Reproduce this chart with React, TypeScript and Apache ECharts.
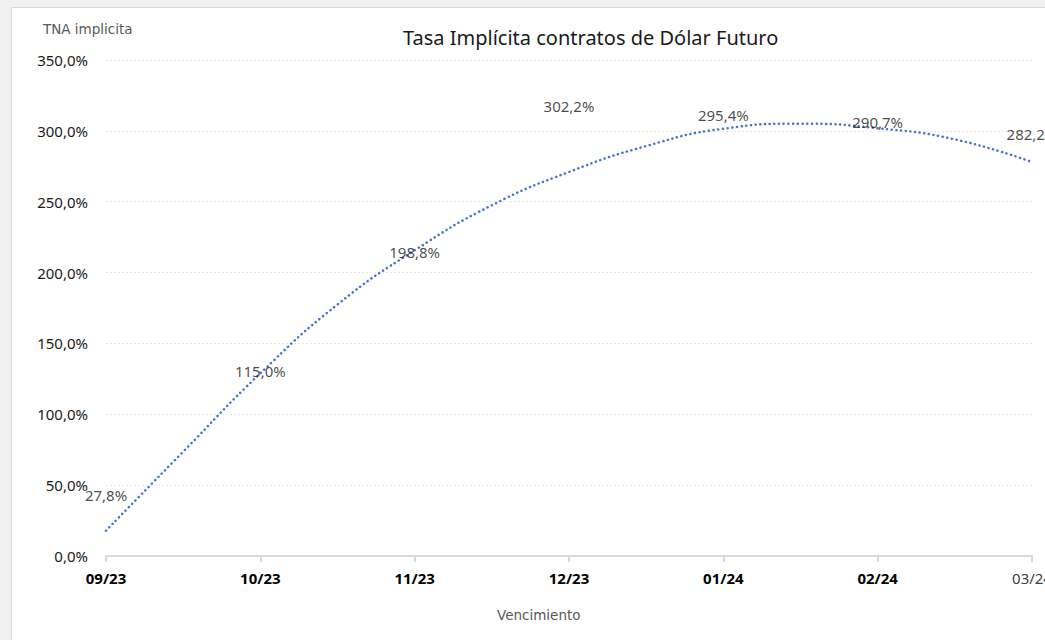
import React, { useEffect, useRef } from "react";
import * as echarts from "echarts";

const categories = ["09/23", "10/23", "11/23", "12/23", "01/24", "02/24", "03/24"];
const tnaValues = [27.8, 115.0, 198.8, 302.2, 295.4, 290.7, 282.2];
// dotted trend line at half-category steps
const trendX = [0, 0.5, 1, 1.5, 2, 2.5, 3, 3.5, 4, 4.5, 5, 5.5, 6];
const trendY = [17.9, 73.6, 128.9, 177.5, 215.7, 247.5, 271, 289.3, 301.5, 305.1, 301.8, 294, 278];

const FONT = "'Noto Sans', sans-serif";
const FONT2 = "'DejaVu Sans', sans-serif";
const fmt = (v: number) => v.toFixed(1).replace(".", ",") + "%";

export default function App() {
  const ref = useRef<HTMLDivElement>(null);
  useEffect(() => {
    document.documentElement.style.overflow = "hidden";
    document.body.style.margin = "0";
    document.body.style.overflow = "hidden";
    if (!ref.current) return;
    const chart = echarts.init(ref.current, null, { renderer: "svg", width: 1045, height: 640 });
    chart.setOption({
      animation: false,
      backgroundColor: "#ffffff",
      graphic: [
        { type: "rect", z: -10, silent: true, shape: { x: 0, y: 0, width: 1045, height: 7 }, style: { fill: "#f0f0f0" } },
        { type: "rect", z: -10, silent: true, shape: { x: 0, y: 0, width: 11, height: 640 }, style: { fill: "#f0f0f0" } },
        { type: "line", z: -9, silent: true, shape: { x1: 11.5, y1: 7.5, x2: 1045, y2: 7.5 }, style: { stroke: "#d9d9d9", lineWidth: 1 } },
        { type: "line", z: -9, silent: true, shape: { x1: 11.5, y1: 7.5, x2: 11.5, y2: 640 }, style: { stroke: "#d9d9d9", lineWidth: 1 } },
        {
          type: "text",
          left: 403,
          top: 27,
          style: { text: "Tasa Implícita contratos de Dólar Futuro", font: `20px ${FONT}`, fill: "#1a1a1a" },
        },
        {
          type: "text",
          left: 43,
          top: 22,
          style: { text: "TNA implicita", font: `13.5px ${FONT2}`, fill: "#595959" },
        },
        {
          type: "text",
          left: 497,
          top: 608,
          style: { text: "Vencimiento", font: `13.5px ${FONT2}`, fill: "#595959" },
        },
      ],
      grid: { left: 106, right: 13, top: 60, bottom: 84, containLabel: false, outerBoundsMode: "none" },
      xAxis: {
        type: "value",
        min: 0,
        max: 6,
        interval: 1,
        axisLine: { show: true, lineStyle: { color: "#d9d9d9", width: 2 } },
        axisTick: { show: true, length: 6, lineStyle: { color: "#d9d9d9", width: 2 } },
        splitLine: { show: false },
        axisLabel: {
          margin: 14,
          formatter: (v: number) => {
            const i = Math.round(v);
            return i === categories.length - 1 ? `{r|${categories[i]}}` : `{b|${categories[i]}}`;
          },
          rich: {
            b: { fontFamily: FONT, fontSize: 15, fontWeight: "bold", color: "#000000" },
            r: { fontFamily: FONT, fontSize: 15, color: "#404040" },
          },
        },
      },
      yAxis: {
        type: "value",
        min: 0,
        max: 350,
        interval: 50,
        axisLine: { show: false },
        axisTick: { show: false },
        splitLine: { show: true, lineStyle: { color: "#e6e6e6", type: [2, 2], width: 1 } },
        axisLabel: { margin: 18, fontFamily: FONT, fontSize: 15, color: "#1a1a1a", formatter: fmt },
      },
      series: [
        {
          type: "line",
          data: trendX.map((x, i) => [x, trendY[i]]),
          smooth: true,
          showSymbol: false,
          symbol: "none",
          lineStyle: { color: "#4472c4", width: 2.5, type: [0.1, 4.6], cap: "round" },
          z: 2,
        },
        {
          type: "scatter",
          data: tnaValues.map((v, i) => [i, v]),
          symbolSize: 1,
          itemStyle: { color: "rgba(0,0,0,0)" },
          label: {
            show: true,
            position: "top",
            distance: 14,
            fontFamily: FONT,
            fontSize: 15,
            color: "#1a1a1a",
            formatter: (p: any) => fmt(p.value[1]),
          },
          z: 3,
        },
      ],
    });
    return () => chart.dispose();
  }, []);
  return (
    <div
      ref={ref}
      style={{ position: "absolute", left: 0, top: 0, width: 1045, height: 640 }}
    />
  );
}
